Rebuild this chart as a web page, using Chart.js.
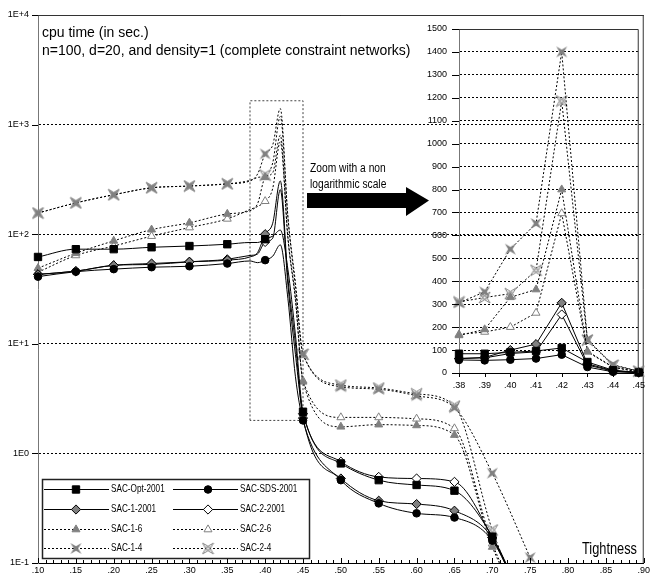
<!DOCTYPE html>
<html>
<head>
<meta charset="utf-8">
<title>cpu time - SAC algorithms</title>
<script src="https://cdn.jsdelivr.net/npm/chart.js@4.4.0/dist/chart.umd.min.js"></script>
<style>
  html, body { margin: 0; padding: 0; background: #fff; }
  #wrap { position: relative; width: 652px; height: 580px; }
  #mainChart { position: absolute; left: 0; top: 0; }
  #zoomChart { position: absolute; left: 400px; top: 0; }
</style>
</head>
<body>
<div id="wrap">
  <canvas id="mainChart" width="652" height="580"></canvas>
  <canvas id="zoomChart" width="252" height="400"></canvas>
</div>
<script>
/*---- data ----*/
var tightness   = [.10, .15, .20, .25, .30, .35, .38, .39, .40, .41, .42, .43, .44, .45, .50, .55, .60, .65, .70, .75];
var sacOpt2001  = [62, 73, 73, 76, 78, 81, 84, 84, 90, 96, 109, 48, 12, 2.4, 0.81, 0.57, 0.515, 0.457, 0.174, 0.03];
var sacSds2001  = [41, 45.5, 48, 50, 51, 54, 57, 55, 58, 63, 80, 26, 5, 2.0, 0.57, 0.35, 0.284, 0.26, 0.16, 0.03];
var sac1_2001   = [43, 46, 52, 54, 56, 58, 62, 68, 100, 126, 306, 40, 10, 2.1, 0.59, 0.37, 0.345, 0.30, 0.17, 0.03];
var sac2_2001   = [43, 46, 52, 53, 56, 59, 64, 66, 85, 92, 255, 35, 8, 2.3, 0.84, 0.61, 0.59, 0.55, 0.17, 0.03];
var sac1_6      = [49, 67, 87, 110, 127, 153, 164, 190, 330, 364, 800, 95, 26, 4.5, 1.75, 1.83, 1.8, 1.47, 0.14, 0.03];
var sac2_6      = [45, 64, 78, 96, 115, 138, 168, 179, 200, 262, 696, 92, 25, 4.6, 2.13, 2.13, 2.07, 1.69, 0.15, 0.03];
var sac1_4      = [156, 193, 229, 265, 275, 288, 306, 354, 540, 652, 1400, 146, 36, 8.1, 4.06, 3.85, 3.36, 2.61, 0.66, 0.112];
var sac2_4      = [156, 193, 229, 265, 275, 288, 310, 329, 346, 448, 1186, 143, 33, 8, 4.2, 3.95, 3.5, 2.7, 0.2, 0.03];
var seriesNames  = ['SAC-Opt-2001', 'SAC-SDS-2001', 'SAC-1-2001', 'SAC-2-2001', 'SAC-1-6', 'SAC-2-6', 'SAC-1-4', 'SAC-2-4'];
var seriesValues = [sacOpt2001, sacSds2001, sac1_2001, sac2_2001, sac1_6, sac2_6, sac1_4, sac2_4];

var logTicks    = [0.1, 1, 10, 100, 1000, 10000];
var xTickValues = [];           // .10 .. .90 every .01 (labels every .05)
for (var n = 10; n <= 90; n++) xTickValues.push(n / 100);
var zoomTicks   = [0, 100, 200, 300, 400, 500, 600, 700, 800, 900, 1000, 1100, 1200, 1300, 1400, 1500];
var zoomRangeX  = [.38, .45];
var zoomBoxY    = [2, 1650];

var titleLines  = ['cpu time (in sec.)', 'n=100, d=20, and density=1 (complete constraint networks)'];
var zoomNote    = ['Zoom with a non', 'logarithmic scale'];
var xTitle      = 'Tightness';
/*---- end of data ----*/

var regular = '"Liberation Sans", Arial, sans-serif';
var grey = '#808080';
Chart.defaults.font.family = regular;
Chart.defaults.color = '#000';

/*---- star markers for the -4 series ----*/
function makeStar(hollow) {
  var c = document.createElement('canvas');
  c.width = 13; c.height = 13;
  var g = c.getContext('2d');
  var m = 6.5, o = 5.5, k = 2.2;
  g.beginPath();
  g.moveTo(m - o, m - o); g.lineTo(m, m - k); g.lineTo(m + o, m - o); g.lineTo(m + k, m);
  g.lineTo(m + o, m + o); g.lineTo(m, m + k); g.lineTo(m - o, m + o); g.lineTo(m - k, m);
  g.closePath();
  if (hollow) {
    g.fillStyle = '#fff'; g.fill();
    g.strokeStyle = grey; g.lineWidth = 1; g.stroke();
    g.strokeRect(m - 1.5, m - 1.5, 3, 3);
  } else {
    g.fillStyle = grey; g.fill();
  }
  return c;
}

var styles = [
  {dash: [],     pointStyle: 'rect',     radius: 5.2, fill: '#000', stroke: '#000'},
  {dash: [],     pointStyle: 'circle',   radius: 3.8, fill: '#000', stroke: '#000'},
  {dash: [],     pointStyle: 'rectRot',  radius: 4.6, fill: grey,   stroke: '#000'},
  {dash: [],     pointStyle: 'rectRot',  radius: 4.6, fill: '#fff', stroke: '#000'},
  {dash: [2, 2], pointStyle: 'triangle', radius: 4.6, fill: grey,   stroke: grey},
  {dash: [2, 2], pointStyle: 'triangle', radius: 4.6, fill: '#fff', stroke: grey},
  {dash: [2, 2], pointStyle: makeStar(false), radius: 6, fill: grey, stroke: grey},
  {dash: [2, 2], pointStyle: makeStar(true),  radius: 6, fill: '#fff', stroke: grey}
];

function isFive(v) { return Math.round(v * 100) % 5 === 0; }
function fmtTight(v) { var k = Math.round(v * 100); return '.' + (k < 10 ? '0' : '') + k; }
function fmtLog(v) { var k = Math.round(Math.log10(v)); return '1E' + (k > 0 ? '+' : '') + k; }

// the reference uses a narrow face; squeeze the regular one horizontally
function narrowText(ctx, text, x, y, sx) {
  ctx.save();
  ctx.translate(x, y);
  ctx.scale(sx, 1);
  ctx.fillText(text, 0, 0);
  ctx.restore();
}

function drawMarker(ctx, st, x, y) {
  if (typeof st.pointStyle === 'object') {
    ctx.drawImage(st.pointStyle, x - st.pointStyle.width / 2, y - st.pointStyle.height / 2);
    return;
  }
  ctx.save();
  ctx.setLineDash([]);
  ctx.fillStyle = st.fill; ctx.strokeStyle = st.stroke; ctx.lineWidth = 1;
  Chart.helpers.drawPoint(ctx, {pointStyle: st.pointStyle, radius: st.radius, rotation: 0, borderWidth: 1}, x, y);
  ctx.restore();
}

/*---- main (log scale) chart ----*/
var mainSets = seriesNames.map(function (name, i) {
  var st = styles[i];
  return {
    label: name,
    data: tightness.map(function (t, j) { return {x: t, y: seriesValues[i][j]}; }),
    borderColor: '#000', borderWidth: 1, borderDash: st.dash,
    cubicInterpolationMode: 'monotone',
    pointStyle: st.pointStyle, pointBackgroundColor: st.fill, pointBorderColor: st.stroke, pointBorderWidth: 1,
    pointRadius: function (c) { return c.raw && isFive(c.raw.x) ? st.radius : 0; },
    pointHoverRadius: 0,
    clip: {left: 8, top: 8, right: 8, bottom: 0}
  };
});
// dotted box marking the zoomed region
mainSets.push({
  label: 'zoom',
  data: [{x: zoomRangeX[0], y: zoomBoxY[0]}, {x: zoomRangeX[0], y: zoomBoxY[1]}, {x: zoomRangeX[1], y: zoomBoxY[1]},
         {x: zoomRangeX[1], y: zoomBoxY[0]}, {x: zoomRangeX[0], y: zoomBoxY[0]}],
  borderColor: '#444', borderWidth: 1, borderDash: [2, 2], pointRadius: 0, tension: 0
});

var mainDecor = {
  id: 'mainDecor',
  afterDraw: function (chart) {
    var ctx = chart.ctx, a = chart.chartArea, xs = chart.scales.x, ys = chart.scales.y;
    ctx.save();
    ctx.lineWidth = 1;
    ctx.strokeStyle = '#333';
    ctx.beginPath();
    ctx.moveTo(a.left, a.top + .5); ctx.lineTo(a.right - .5, a.top + .5); ctx.lineTo(a.right - .5, a.bottom);
    ctx.stroke();
    ctx.strokeStyle = '#000';
    xTickValues.forEach(function (v) {
      var px = Math.round(xs.getPixelForValue(v)) + .5;
      ctx.beginPath(); ctx.moveTo(px, a.bottom); ctx.lineTo(px, a.bottom - (isFive(v) ? 5 : 3)); ctx.stroke();
    });
    logTicks.forEach(function (v) {
      var py = Math.round(ys.getPixelForValue(v)) + .5;
      ctx.beginPath(); ctx.moveTo(a.left - 6, py); ctx.lineTo(a.left, py); ctx.stroke();
    });

    ctx.fillStyle = '#000';
    ctx.textBaseline = 'alphabetic';
    ctx.font = '14px ' + regular;
    ctx.fillText(titleLines[0], 42, 37);
    ctx.fillText(titleLines[1], 42, 55);

    ctx.font = '12.5px ' + regular;
    narrowText(ctx, zoomNote[0], 310, 172, 0.82);
    narrowText(ctx, zoomNote[1], 310, 188, 0.82);

    // arrow towards the zoom
    ctx.beginPath();
    ctx.moveTo(307, 193); ctx.lineTo(406, 193); ctx.lineTo(406, 187); ctx.lineTo(429, 200.5);
    ctx.lineTo(406, 216); ctx.lineTo(406, 208); ctx.lineTo(307, 208); ctx.closePath();
    ctx.fill();

    ctx.font = '16px ' + regular;
    narrowText(ctx, xTitle, 582, 554, 0.8);

    // legend
    ctx.fillStyle = '#fff';
    ctx.fillRect(42, 479, 268, 80);
    ctx.strokeStyle = '#222'; ctx.lineWidth = 1.5;
    ctx.strokeRect(42.5, 479.5, 267, 79);
    var rows = [489, 509, 529, 548];
    ctx.font = '10.5px ' + regular;
    ctx.textBaseline = 'middle';
    seriesNames.forEach(function (name, i) {
      var st = styles[i], col = i % 2, y = rows[Math.floor(i / 2)] + .5;
      var x0 = col ? 173 : 44, x1 = col ? 238 : 109, mx = col ? 208 : 76, tx = col ? 240 : 111;
      ctx.strokeStyle = '#000'; ctx.lineWidth = 1; ctx.setLineDash(st.dash);
      ctx.beginPath(); ctx.moveTo(x0, y); ctx.lineTo(x1, y); ctx.stroke();
      ctx.setLineDash([]);
      drawMarker(ctx, st, mx, y);
      ctx.fillStyle = '#000';
      narrowText(ctx, name, tx, y, 0.78);
    });
    ctx.restore();
  }
};

new Chart(document.getElementById('mainChart'), {
  type: 'line',
  data: {datasets: mainSets},
  options: {
    responsive: false, animation: false, events: [],
    layout: {padding: {top: 15, right: 4, left: 0, bottom: 0}},
    plugins: {legend: {display: false}, tooltip: {enabled: false}},
    scales: {
      x: {
        type: 'linear', min: .10, max: .90,
        afterBuildTicks: function (s) { s.ticks = xTickValues.map(function (v) { return {value: v}; }); },
        afterFit: function (s) { s.height = 17; },
        grid: {display: false, drawTicks: false},
        border: {display: true, color: '#000', width: 1},
        ticks: {autoSkip: false, maxRotation: 0, padding: 2, font: {size: 9},
                callback: function (v) { return isFive(v) ? fmtTight(v) : ''; }}
      },
      y: {
        type: 'logarithmic', min: 0.1, max: 10000,
        afterBuildTicks: function (s) { s.ticks = logTicks.map(function (v) { return {value: v}; }); },
        afterFit: function (s) { s.width = 38; },
        grid: {drawTicks: false, color: '#000', lineWidth: 1},
        border: {color: '#777', width: 1, dash: [2, 2]},
        ticks: {padding: 9, font: {size: 9}, callback: function (v) { return fmtLog(v); }}
      }
    }
  },
  plugins: [mainDecor]
});

/*---- zoomed (linear scale) chart ----*/
var zoomIdx = tightness.map(function (t, j) { return j; }).filter(function (j) {
  var k = Math.round(tightness[j] * 100);
  return k >= Math.round(zoomRangeX[0] * 100) && k <= Math.round(zoomRangeX[1] * 100);
});

var zoomSets = seriesNames.map(function (name, i) {
  var st = styles[i];
  return {
    label: name,
    data: zoomIdx.map(function (j) { return {x: tightness[j], y: seriesValues[i][j]}; }),
    borderColor: '#000', borderWidth: 1, borderDash: st.dash, tension: 0,
    pointStyle: st.pointStyle, pointBackgroundColor: st.fill, pointBorderColor: st.stroke, pointBorderWidth: 1,
    pointRadius: st.radius, pointHoverRadius: 0,
    clip: false
  };
});

var zoomDecor = {
  id: 'zoomDecor',
  afterDraw: function (chart) {
    var ctx = chart.ctx, a = chart.chartArea, xs = chart.scales.x, ys = chart.scales.y;
    ctx.save();
    ctx.lineWidth = 1;
    ctx.strokeStyle = '#333';
    ctx.beginPath();
    ctx.moveTo(a.left, a.top + .5); ctx.lineTo(a.right - .5, a.top + .5); ctx.lineTo(a.right - .5, a.bottom);
    ctx.stroke();
    ctx.strokeStyle = '#000';
    zoomTicks.forEach(function (v) {
      var py = Math.round(ys.getPixelForValue(v)) + .5;
      ctx.beginPath(); ctx.moveTo(a.left - 7, py); ctx.lineTo(a.left, py); ctx.stroke();
    });
    zoomIdx.forEach(function (j) {
      var px = Math.round(xs.getPixelForValue(tightness[j])) + .5;
      ctx.beginPath(); ctx.moveTo(px, a.bottom); ctx.lineTo(px, a.bottom + 4); ctx.stroke();
    });
    ctx.restore();
  }
};

new Chart(document.getElementById('zoomChart'), {
  type: 'line',
  data: {datasets: zoomSets},
  options: {
    responsive: false, animation: false, events: [],
    layout: {padding: {top: 29, right: 11, left: 0, bottom: 0}},
    plugins: {legend: {display: false}, tooltip: {enabled: false}},
    scales: {
      x: {
        type: 'linear', min: zoomRangeX[0], max: zoomRangeX[1],
        afterBuildTicks: function (s) { s.ticks = zoomIdx.map(function (j) { return {value: tightness[j]}; }); },
        afterFit: function (s) { s.height = 27; },
        grid: {display: false, drawTicks: false},
        border: {display: true, color: '#000', width: 1},
        ticks: {autoSkip: false, maxRotation: 0, padding: 7, font: {size: 9},
                callback: function (v) { return fmtTight(v); }}
      },
      y: {
        type: 'linear', min: 0, max: 1500,
        afterBuildTicks: function (s) { s.ticks = zoomTicks.map(function (v) { return {value: v}; }); },
        afterFit: function (s) { s.width = 59; },
        grid: {drawTicks: false, color: '#000', lineWidth: 1},
        border: {color: '#777', width: 1, dash: [2, 2]},
        ticks: {padding: 12, font: {size: 9}, callback: function (v) { return String(v); }}
      }
    }
  },
  plugins: [zoomDecor]
});
</script>
</body>
</html>
